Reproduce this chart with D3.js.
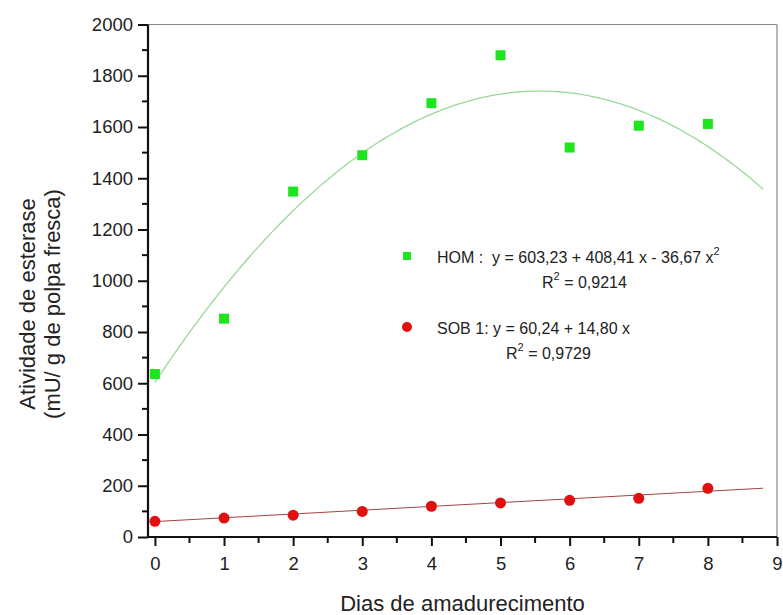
<!DOCTYPE html>
<html>
<head>
<meta charset="utf-8">
<script src="https://cdn.jsdelivr.net/npm/d3@7"></script>
<style>
  body { margin: 0; background: #fff; }
  text { font-family: "Liberation Sans", Arial, sans-serif; fill: #222; white-space: pre; }
</style>
</head>
<body>
<svg id="chart"></svg>
<script>
// dados
const dias = [0, 1, 2, 3, 4, 5, 6, 7, 8];
const hom = [636, 852, 1348, 1490, 1693, 1880, 1520, 1605, 1612];
const sob1 = [61, 74, 85, 100, 120, 133, 143, 151, 190];
const homCoef = [603.23, 408.41, -36.67];
const sobCoef = [60.24, 14.80];
const xTicks = [0, 1, 2, 3, 4, 5, 6, 7, 8, 9];
const yTicks = [0, 200, 400, 600, 800, 1000, 1200, 1400, 1600, 1800, 2000];

const width = 783, height = 615;
const margin = { top: 24.5, right: 6, bottom: 78, left: 148 };

const svg = d3.select("#chart")
    .attr("width", width)
    .attr("height", height);

const x = d3.scaleLinear().domain([-0.1, 9]).range([margin.left, width - margin.right]);
const y = d3.scaleLinear().domain([0, 2000]).range([height - margin.bottom, margin.top]);

// bordas cinza (topo e direita)
svg.append("line")
    .attr("x1", x(-0.1)).attr("x2", x(9))
    .attr("y1", y(2000)).attr("y2", y(2000))
    .attr("stroke", "#888").attr("stroke-width", 1.2);
svg.append("line")
    .attr("x1", x(9)).attr("x2", x(9))
    .attr("y1", y(2000)).attr("y2", y(0))
    .attr("stroke", "#888").attr("stroke-width", 1.2);

// eixo Y
const yAxis = svg.append("g")
    .attr("transform", `translate(${margin.left},0)`)
    .call(d3.axisLeft(y).tickValues(yTicks).tickSize(10).tickPadding(5).tickFormat(d3.format("d")));
yAxis.append("g").selectAll("line")
    .data(d3.range(100, 2000, 200))
    .enter().append("line")
    .attr("x1", -6).attr("x2", 0)
    .attr("y1", d => y(d)).attr("y2", d => y(d))
    .attr("stroke", "#111").attr("stroke-width", 2);

// eixo X
const xAxis = svg.append("g")
    .attr("transform", `translate(0,${height - margin.bottom})`)
    .call(d3.axisBottom(x).tickValues(xTicks).tickSize(9).tickPadding(11).tickFormat(d3.format("d")));
xAxis.append("g").selectAll("line")
    .data(d3.range(0.5, 9, 1))
    .enter().append("line")
    .attr("x1", d => x(d)).attr("x2", d => x(d))
    .attr("y1", 0).attr("y2", 6)
    .attr("stroke", "#111").attr("stroke-width", 2);

[yAxis, xAxis].forEach(ax => {
    ax.select(".domain").attr("stroke", "#111").attr("stroke-width", 2.2);
    ax.selectAll(".tick line").attr("stroke", "#111").attr("stroke-width", 2);
    ax.selectAll(".tick text")
        .style("font-family", "'Liberation Sans', Arial, sans-serif")
        .style("font-size", "18.5px")
        .attr("fill", "#222");
});
xAxis.select(".domain").attr("d", `M${x(-0.1)},0H${x(9)}`);
yAxis.select(".domain").attr("d", `M0,${y(0)}V${y(2000)}`);

// curvas ajustadas
const homFit = d3.range(0, 8.801, 0.05).map(t => [t, homCoef[0] + homCoef[1] * t + homCoef[2] * t * t]);
const sobFit = [0, 8.8].map(t => [t, sobCoef[0] + sobCoef[1] * t]);
const line = d3.line().x(d => x(d[0])).y(d => y(d[1]));

svg.append("path").datum(homFit)
    .attr("d", line).attr("fill", "none")
    .attr("stroke", "#9ad89a").attr("stroke-width", 1.3);
svg.append("path").datum(sobFit)
    .attr("d", line).attr("fill", "none")
    .attr("stroke", "#a04545").attr("stroke-width", 1);

// pontos
svg.selectAll(".hom")
    .data(dias)
    .enter().append("rect")
    .attr("class", "hom")
    .attr("x", d => x(d) - 5)
    .attr("y", (d, i) => y(hom[i]) - 5)
    .attr("width", 10).attr("height", 10)
    .attr("fill", "#1ee61e");

svg.selectAll(".sob")
    .data(dias)
    .enter().append("circle")
    .attr("class", "sob")
    .attr("cx", d => x(d))
    .attr("cy", (d, i) => y(sob1[i]))
    .attr("r", 5.5)
    .attr("fill", "#e01010");

// legenda
const leg = svg.append("g").style("font-size", "16px");
function supText(xp, yp, base, sup, rest) {
    const t = leg.append("text").attr("x", xp).attr("y", yp);
    t.append("tspan").text(base);
    t.append("tspan").attr("dy", -8).style("font-size", "11px").text(sup);
    if (rest) t.append("tspan").attr("dy", 8).text(rest);
}
leg.append("rect").attr("x", 403).attr("y", 252).attr("width", 8).attr("height", 8).attr("fill", "#1ee61e");
supText(437, 263, "HOM :  y = 603,23 + 408,41 x - 36,67 x", "2");
supText(542, 288, "R", "2", " = 0,9214");

leg.append("circle").attr("cx", 407).attr("cy", 327).attr("r", 5).attr("fill", "#e01010");
leg.append("text").attr("x", 437).attr("y", 334).text("SOB 1: y = 60,24 + 14,80 x");
supText(506, 359, "R", "2", " = 0,9729");

// títulos dos eixos
svg.append("text")
    .attr("x", (margin.left + width - margin.right) / 2).attr("y", 611)
    .attr("text-anchor", "middle")
    .style("font-size", "22px")
    .text("Dias de amadurecimento");

const yt = svg.append("text")
    .attr("transform", "translate(0,304) rotate(-90)")
    .attr("text-anchor", "middle")
    .style("font-size", "22px");
yt.append("tspan").attr("x", 0).attr("y", 35).text("Atividade de esterase");
yt.append("tspan").attr("x", 0).attr("y", 60).text("(mU/ g de polpa fresca)");
</script>
</body>
</html>
